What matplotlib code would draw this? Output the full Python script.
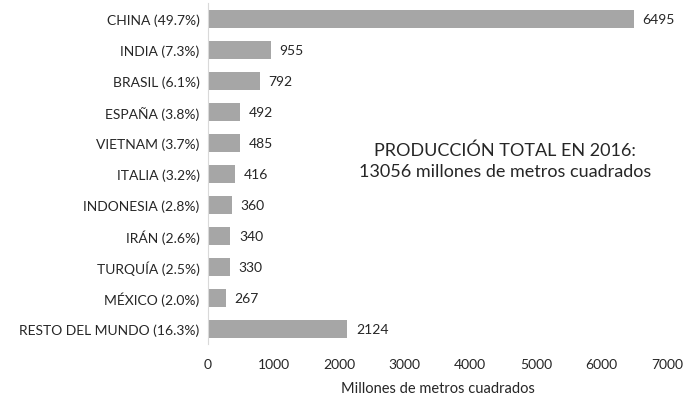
import matplotlib
matplotlib.use("Agg")
import matplotlib.pyplot as plt

plt.rcParams['font.family'] = ['Lato', 'DejaVu Sans']

countries = ['CHINA (49.7%)', 'INDIA (7.3%)', 'BRASIL (6.1%)', 'ESPAÑA (3.8%)',
             'VIETNAM (3.7%)', 'ITALIA (3.2%)', 'INDONESIA (2.8%)', 'IRÁN (2.6%)',
             'TURQUÍA (2.5%)', 'MÉXICO (2.0%)', 'RESTO DEL MUNDO (16.3%)']
production = [6495, 955, 792, 492, 485, 416, 360, 340, 330, 267, 2124]
xticks = [0, 1000, 2000, 3000, 4000, 5000, 6000, 7000]

fig = plt.figure(figsize=(6.89, 4.02), dpi=100)
ax = fig.add_axes([0.302, 0.141, 0.666, 0.848])

ypos = list(range(len(countries)))
ax.barh(ypos, production, height=0.58, color='#a6a6a6')
for y, v in zip(ypos, production):
    ax.text(v + 130, y, str(v), va='center', ha='left', fontsize=10, color='#262626')

ax.set_ylim(len(countries) - 0.5, -0.5)
ax.set_xlim(0, 7000)
ax.set_yticks(ypos)
ax.set_yticklabels(countries, fontsize=10, color='#262626')
ax.set_xticks(xticks)
ax.set_xticklabels([str(t) for t in xticks], fontsize=10, color='#262626')
ax.tick_params(axis='both', length=0)
ax.tick_params(axis='y', pad=6)
ax.tick_params(axis='x', pad=10)

for s in ['top', 'right', 'bottom']:
    ax.spines[s].set_visible(False)
ax.spines['left'].set_color('#d9d9d9')

ax.set_xlabel('Millones de metros cuadrados', fontsize=10.5, color='#262626', labelpad=8)

ax.text(0.647, 0.54, 'PRODUCCIÓN TOTAL EN 2016:\n13056 millones de metros cuadrados',
        transform=ax.transAxes, ha='center', va='center', fontsize=13,
        color='#262626', linespacing=1.35)

fig.savefig('out.png', dpi=100)
